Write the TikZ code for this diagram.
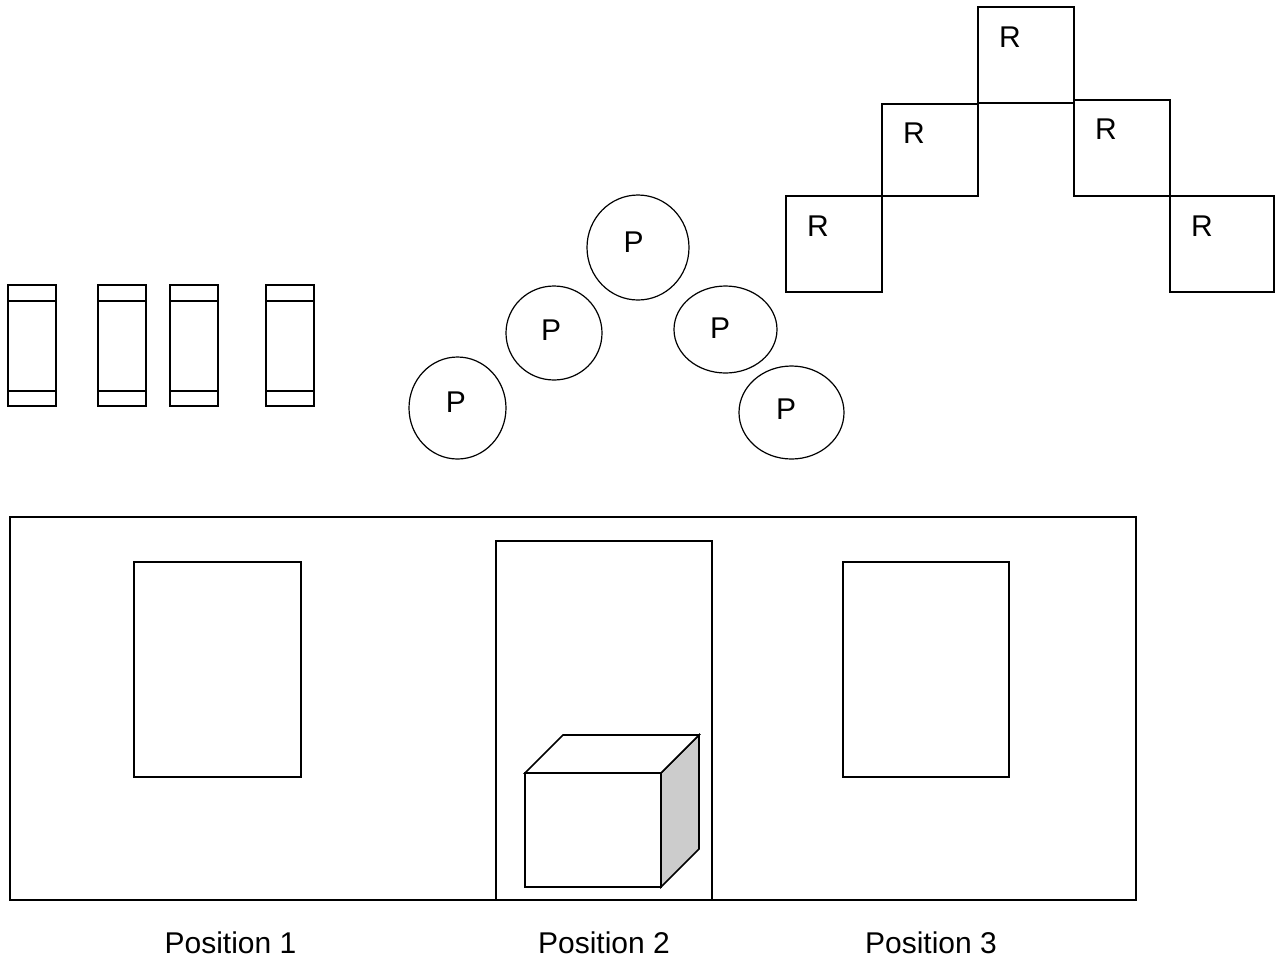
\documentclass[tikz,border=0pt]{standalone}
\usepackage{fontspec}
\setmainfont{Liberation Sans}
\usepackage{tikz}
\usetikzlibrary{calc}
\def\slab(#1:#2){\draw[line width=0.8pt] (#1, 285) rectangle (#2, 406); \draw[line width=0.8pt] (#1, 301) -- (#2, 301); \draw[line width=0.8pt] (#1, 391) -- (#2, 391);}

\begin{document}
\begin{tikzpicture}[x=0.5pt, y=-0.5pt, font=\fontsize{15}{18}\selectfont]
		%%%%% START %%%%%
		\useasboundingbox (0, 0) rectangle (1280, 960);
		
		\slab(8:56)
		\slab(98:146)
		\slab(170:218)
		\slab(266:314)
		
		\draw[line width=0.6pt] (457.5, 408) ellipse [x radius=48.5, y radius=51];
		\draw[line width=0.6pt] (554, 333) ellipse [x radius=48, y radius=47];
		\draw[line width=0.6pt] (638, 247.5) ellipse [x radius=51, y radius=52.5];
		\draw[line width=0.6pt] (725.5, 329.5) ellipse [x radius=51.5, y radius=43.5];
		\draw[line width=0.6pt] (791.5, 412.5) ellipse [x radius=52.5, y radius=46.5];
		\node[inner sep=0] (p1) at (456, 402) {P};
		\node[inner sep=0] (p2) at (551, 330) {P};
		\node[inner sep=0] (p3) at (633.5, 242.5) {P};
		\node[inner sep=0] (p4) at (720, 328.5) {P};
		\node[inner sep=0] (p5) at (786, 409) {P};
		
		\draw[line width=0.7pt] (978, 7) rectangle (1074, 103);
		\draw[line width=0.7pt] (882, 104) rectangle (978, 196);
		\draw[line width=0.7pt] (1074, 100) rectangle (1170, 196);
		\draw[line width=0.7pt] (786, 196) rectangle (882, 292);
		\draw[line width=0.7pt] (1170, 196) rectangle (1274, 292);
		\node[inner sep=0] (r1) at (1010, 37.5) {R};
		\node[inner sep=0] (r2) at (914, 133.5) {R};
		\node[inner sep=0] (r3) at (1106, 129) {R};
		\node[inner sep=0] (r4) at (818, 226) {R};
		\node[inner sep=0] (r5) at (1202, 226) {R};
		
		\draw[line width=0.8pt] (10, 517) rectangle (1136, 900);
		\draw[line width=0.8pt] (134, 562) rectangle (301, 777);
		\draw[line width=0.8pt] (496, 541) rectangle (712, 900);
		\draw[line width=0.8pt] (843, 562) rectangle (1009, 777);
		
		\draw[line width=0.8pt, fill=black!20] (661, 773) -- (699, 735) -- (699, 849) -- (661, 887) -- cycle;
		\draw[line width=0.8pt, fill=white] (525, 773) -- (563, 735) -- (699, 735) -- (661, 773) -- cycle;
		\draw[line width=0.8pt, fill=white] (525, 773) rectangle (661, 887);
		
		\node (pos1) at (230.5, 943) {Position 1};
		\node (pos2) at (604, 943) {Position 2};
		\node (pos3) at (931, 943) {Position 3};
		
		%%%%% END %%%%%
	\end{tikzpicture}
\end{document}
